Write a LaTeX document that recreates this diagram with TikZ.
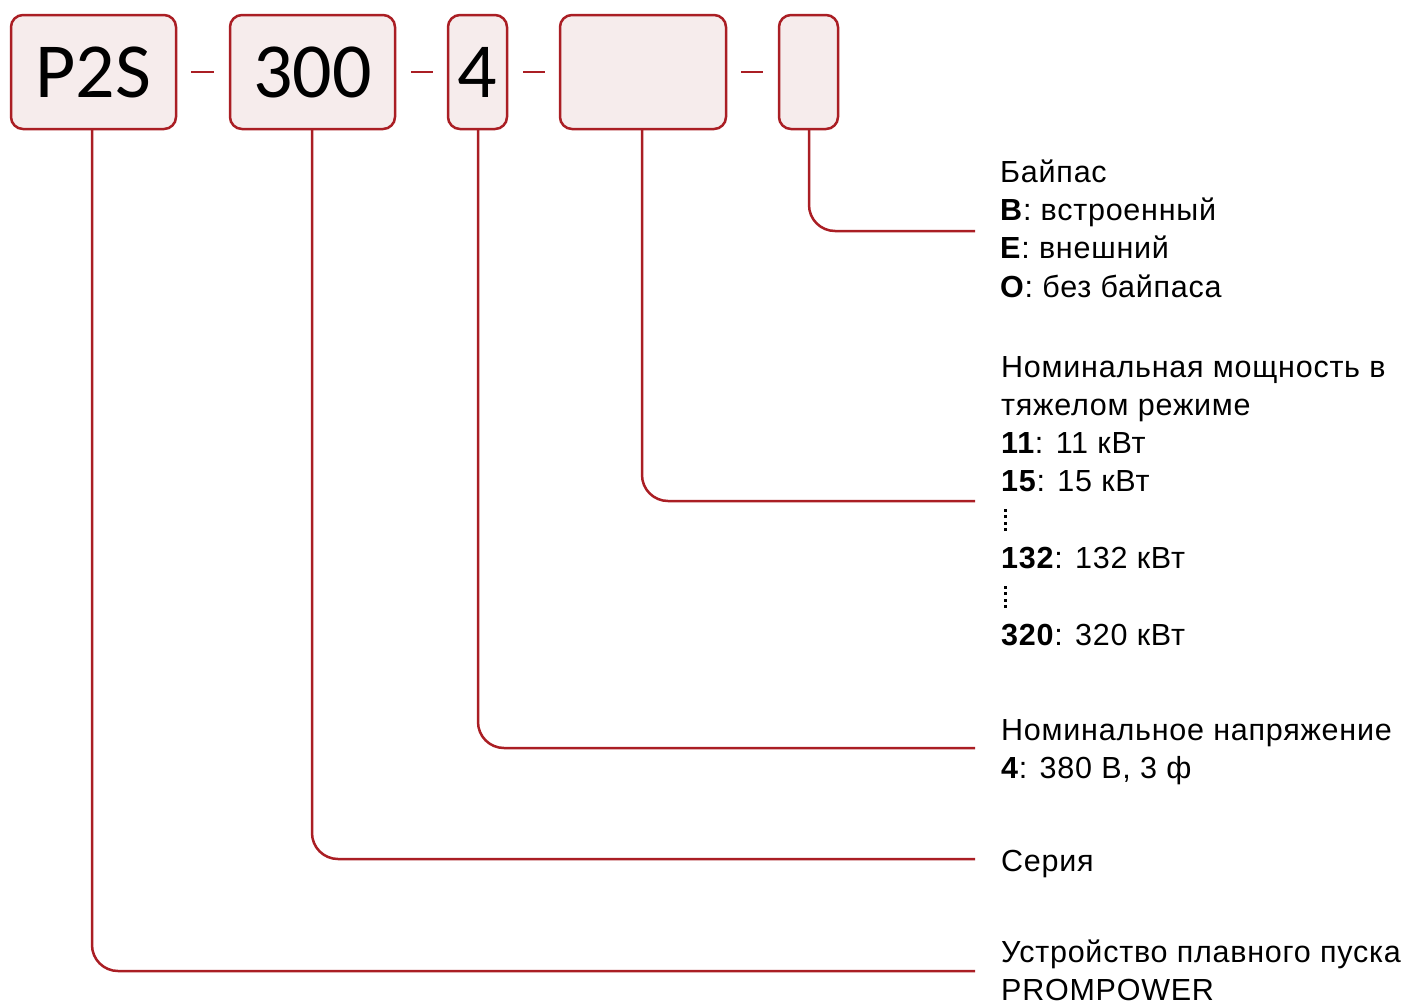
\documentclass[tikz,border=0pt]{standalone}
\usepackage{fontspec}
\setmainfont{Liberation Sans}[LetterSpace=2.5]
\newfontfamily\boxfont{Carlito}
\definecolor{brd}{RGB}{170,30,36}
\definecolor{bfill}{RGB}{246,236,236}
\newcommand{\mydots}{\raisebox{-6pt}{\vbox{\hrule width 3pt height 3pt\vskip 3.5pt\hrule width 3pt height 3pt\vskip 3.5pt\hrule width 3pt height 3pt\vskip 3.5pt\hrule width 3pt height 3pt}}}
\begin{document}
\begin{tikzpicture}[x=1pt,y=-1pt,
  codebox/.style={draw=brd,fill=bfill,line width=2.5pt,rounded corners=12pt},
  codetxt/.style={font=\boxfont\fontsize{78}{80}\selectfont,inner sep=0,anchor=base},
  sep/.style={draw=brd,line width=2.5pt},
  lead/.style={draw=brd,line width=2.5pt,rounded corners=26pt},
  lbl/.style={font=\fontsize{30.5}{36}\selectfont,inner sep=0,anchor=base west}]
\useasboundingbox (0,0) rectangle (1408,1004);
% boxes
\draw[codebox] (11,15) rectangle (176,129);
\draw[codebox] (230,15) rectangle (395,129);
\draw[codebox] (448,15) rectangle (507,129);
\draw[codebox] (560,15) rectangle (726,129);
\draw[codebox] (779,15) rectangle (838,129);
\node[codetxt] (p2s) at (93.5,97) {P2S};
\node[codetxt] (t300) at (312.5,97) {300};
\node[codetxt] (t4) at (477.5,97) {4};
\coordinate (b1) at (92,129);
\coordinate (b2) at (312,129);
\coordinate (b3) at (478,129);
\coordinate (b4) at (642,129);
\coordinate (b5) at (809,129);
% separators
\draw[sep] (191,72) -- (214,72);
\draw[sep] (411,72) -- (433,72);
\draw[sep] (523,72) -- (545,72);
\draw[sep] (741,72) -- (763,72);
% leads
\coordinate (e5) at (975,231);
\coordinate (e4) at (975,501);
\coordinate (e3) at (975,748);
\coordinate (e2) at (975,859);
\coordinate (e1) at (975,971);
\draw[lead] (b5) |- (e5);
\draw[lead] (b4) |- (e4);
\draw[lead] (b3) |- (e3);
\draw[lead] (b2) |- (e2);
\draw[lead] (b1) |- (e1);
% labels
\node[lbl] (a1) at (1000,182) {Байпас};
\node[lbl] (a2) at (1000,220) {\textbf{B}: встроенный};
\node[lbl] (a3) at (1000,258) {\textbf{E}: внешний};
\node[lbl] (a4) at (1000,297) {\textbf{O}: без байпаса};
\node[lbl] (c1) at (1001,377) {Номинальная мощность в};
\node[lbl] (c2) at (1001,415) {тяжелом режиме};
\node[lbl] (c3) at (1001,453) {\textbf{11}: 11 кВт};
\node[lbl] (c4) at (1001,491) {\textbf{15}: 15 кВт};
\node[lbl] (c5) at (1003.5,525) {\mydots};
\node[lbl] (c6) at (1001,568) {\textbf{132}: 132 кВт};
\node[lbl] (c7) at (1003.5,602) {\mydots};
\node[lbl] (c8) at (1001,645) {\textbf{320}: 320 кВт};
\node[lbl] (d1) at (1001,740) {Номинальное напряжение};
\node[lbl] (d2) at (1001,778) {\textbf{4}: 380 В, 3 ф};
\node[lbl] (s1) at (1001,871) {Серия};
\node[lbl] (u1) at (1001,962) {Устройство плавного пуска};
\node[lbl] (u2) at (1001,1000) {PROMPOWER};
\end{tikzpicture}
\end{document}
